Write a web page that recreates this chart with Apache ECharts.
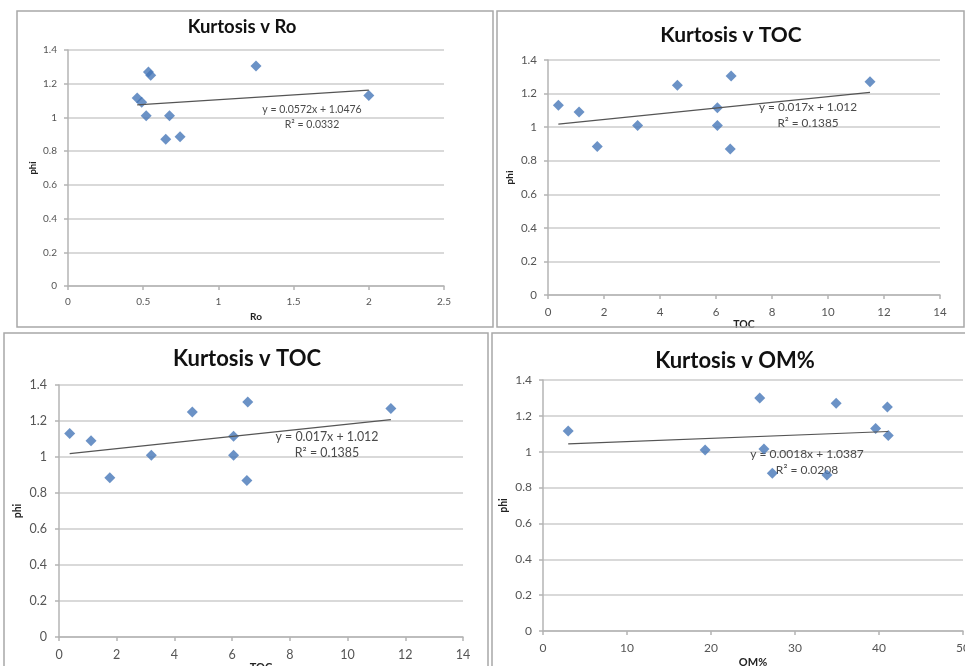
<!DOCTYPE html>
<html>
<head>
<meta charset="utf-8">
<style>
  html, body { margin: 0; padding: 0; background: #ffffff; }
  #chart { width: 965px; height: 666px; }
</style>
<script src="https://cdn.jsdelivr.net/npm/echarts@6/dist/echarts.min.js"></script>
</head>
<body>
<div id="chart"></div>
<script>
// Kurtosis (phi) against vitrinite reflectance, TOC and organic matter content
const roValues   = [0.46, 0.49, 0.52, 0.535, 0.55, 0.65, 0.675, 0.745, 1.25, 2.0];
const roPhi      = [1.115, 1.09, 1.01, 1.27, 1.25, 0.87, 1.01, 0.885, 1.305, 1.13];
const tocValues  = [0.37, 1.11, 1.76, 3.2, 4.62, 6.05, 6.05, 6.54, 6.51, 11.5];
const tocPhi     = [1.13, 1.09, 0.885, 1.01, 1.25, 1.115, 1.01, 1.305, 0.87, 1.27];
const omValues   = [3.0, 19.3, 25.8, 26.3, 27.3, 33.8, 34.9, 39.6, 41.0, 41.1];
const omPhi      = [1.115, 1.01, 1.30, 1.015, 0.88, 0.87, 1.27, 1.13, 1.25, 1.09];

// linear fits: [slope, intercept, R²]
const roFit  = [0.0572, 1.0476, '0.0332'];
const tocFit = [0.017, 1.012, '0.1385'];
const omFit  = [0.0018, 1.0387, '0.0208'];

const panelTitles = ['Kurtosis v Ro', 'Kurtosis v TOC', 'Kurtosis v TOC', 'Kurtosis v OM%'];
const xNames      = ['Ro', 'TOC', 'TOC', 'OM%'];
const yName       = 'phi';

const FONT = 'Lato, "Noto Sans", sans-serif';
const AXIS_COLOR = '#b4b4b4';
const GRID_COLOR = '#cdcdcd';
const LABEL_COLOR = '#555555';
const MARKER = '#4677b8';

const panels = [
  { xs: roValues,  ys: roPhi,  fit: roFit,  xMax: 2.5, xInt: 0.5,
    grid: { left: 68, top: 50, width: 376, height: 236 },
    tick: 10, nameSize: 10, nameGap: 26, yNameGap: 30, xMargin: 11, yMargin: 11 },
  { xs: tocValues, ys: tocPhi, fit: tocFit, xMax: 14, xInt: 2,
    grid: { left: 548, top: 60, width: 392, height: 235 },
    tick: 11.5, nameSize: 10.5, nameGap: 17, yNameGap: 33, xMargin: 11, yMargin: 11 },
  { xs: tocValues, ys: tocPhi, fit: tocFit, xMax: 14, xInt: 2,
    grid: { left: 59, top: 385, width: 404, height: 252 },
    tick: 12.5, nameSize: 11, nameGap: 19, yNameGap: 36, xMargin: 11, yMargin: 12 },
  { xs: omValues,  ys: omPhi,  fit: omFit,  xMax: 50, xInt: 10,
    grid: { left: 543, top: 380, width: 420, height: 251 },
    tick: 12, nameSize: 11, nameGap: 26, yNameGap: 34, xMargin: 11, yMargin: 11 }
];

// frame, title and equation placement for each panel
const frames = [
  { x: 17, y: 11, w: 476, h: 316 },
  { x: 497, y: 11, w: 467, h: 316 },
  { x: 4, y: 333, w: 484, h: 345 },
  { x: 492, y: 333, w: 485, h: 345 }
];
const titleSpots = [
  { x: 242, y: 27, size: 18.5 },
  { x: 731, y: 35, size: 21 },
  { x: 247, y: 359, size: 22 },
  { x: 735, y: 361, size: 22 }
];
const eqSpots = [
  { x: 312, y: 117, size: 10.5, lh: 15.4 },
  { x: 808, y: 115, size: 11.8, lh: 15.4 },
  { x: 327, y: 445, size: 12.4, lh: 16 },
  { x: 807, y: 462, size: 12, lh: 16.7 }
];

const grids = [], xAxes = [], yAxes = [], series = [], graphics = [];

panels.forEach((p, i) => {
  grids.push(Object.assign({ containLabel: false, outerBoundsMode: 'none' }, p.grid));
  xAxes.push({
    type: 'value', gridIndex: i, min: 0, max: p.xMax, interval: p.xInt,
    name: xNames[i], nameLocation: 'middle', nameGap: p.nameGap,
    nameTextStyle: { fontFamily: FONT, fontWeight: 'bold', fontSize: p.nameSize, color: '#222' },
    axisLine: { show: true, onZero: false, lineStyle: { color: AXIS_COLOR, width: 1.5 } },
    axisTick: { show: true, length: 4, lineStyle: { color: AXIS_COLOR, width: 1.5 } },
    axisLabel: { fontFamily: FONT, fontSize: p.tick, color: LABEL_COLOR, margin: p.xMargin,
                 showMaxLabel: true, showMinLabel: true, hideOverlap: false },
    splitLine: { show: false }
  });
  yAxes.push({
    type: 'value', gridIndex: i, min: 0, max: 1.4, interval: 0.2,
    name: yName, nameLocation: 'middle', nameGap: p.yNameGap, nameRotate: 90,
    nameTextStyle: { fontFamily: FONT, fontWeight: 'bold', fontSize: p.nameSize - 0.5, color: '#222' },
    axisLine: { show: true, lineStyle: { color: AXIS_COLOR, width: 1.5 } },
    axisTick: { show: true, length: 4, lineStyle: { color: AXIS_COLOR, width: 1.5 } },
    axisLabel: { fontFamily: FONT, fontSize: p.tick, color: LABEL_COLOR, margin: p.yMargin,
                 formatter: v => String(Math.round(v * 10) / 10) },
    splitLine: { show: true, lineStyle: { color: GRID_COLOR, width: 1.5 } }
  });

  const pts = p.xs.map((x, k) => [x, p.ys[k]]);
  series.push({
    type: 'scatter', xAxisIndex: i, yAxisIndex: i, data: pts,
    symbol: 'diamond', symbolSize: [11, 11],
    itemStyle: { color: MARKER }, z: 3, silent: true
  });

  // fitted line spans the observed range of the predictor
  const lo = Math.min(...p.xs), hi = Math.max(...p.xs);
  const [m, b] = p.fit;
  series.push({
    type: 'line', xAxisIndex: i, yAxisIndex: i,
    data: [[lo, m * lo + b], [hi, m * hi + b]],
    showSymbol: false, symbol: 'none',
    lineStyle: { color: '#555555', width: 1.2 }, z: 4, silent: true, animation: false
  });

  const f = frames[i];
  graphics.push({
    type: 'rect', shape: { x: f.x, y: f.y, width: f.w, height: f.h },
    style: { fill: null, stroke: '#a8a8a8', lineWidth: 1.5 }, z: 1, silent: true
  });
  const t = titleSpots[i];
  graphics.push({
    type: 'text', x: t.x, y: t.y, z: 5,
    style: { text: panelTitles[i], fontFamily: FONT, fontWeight: 'bold', fontSize: t.size,
             fill: '#111', align: 'center', verticalAlign: 'middle' }
  });
  const e = eqSpots[i];
  graphics.push({
    type: 'text', x: e.x, y: e.y, z: 2,
    style: { text: 'y = ' + m + 'x + ' + b + '\nR² = ' + p.fit[2],
             fontFamily: FONT, fontSize: e.size, lineHeight: e.lh,
             fill: '#4a4a4a', align: 'center', verticalAlign: 'middle' }
  });
});

const chart = echarts.init(document.getElementById('chart'), null, { renderer: 'canvas' });
chart.setOption({
  animation: false,
  backgroundColor: '#ffffff',
  grid: grids, xAxis: xAxes, yAxis: yAxes, series: series,
  graphic: graphics
});
</script>
</body>
</html>
